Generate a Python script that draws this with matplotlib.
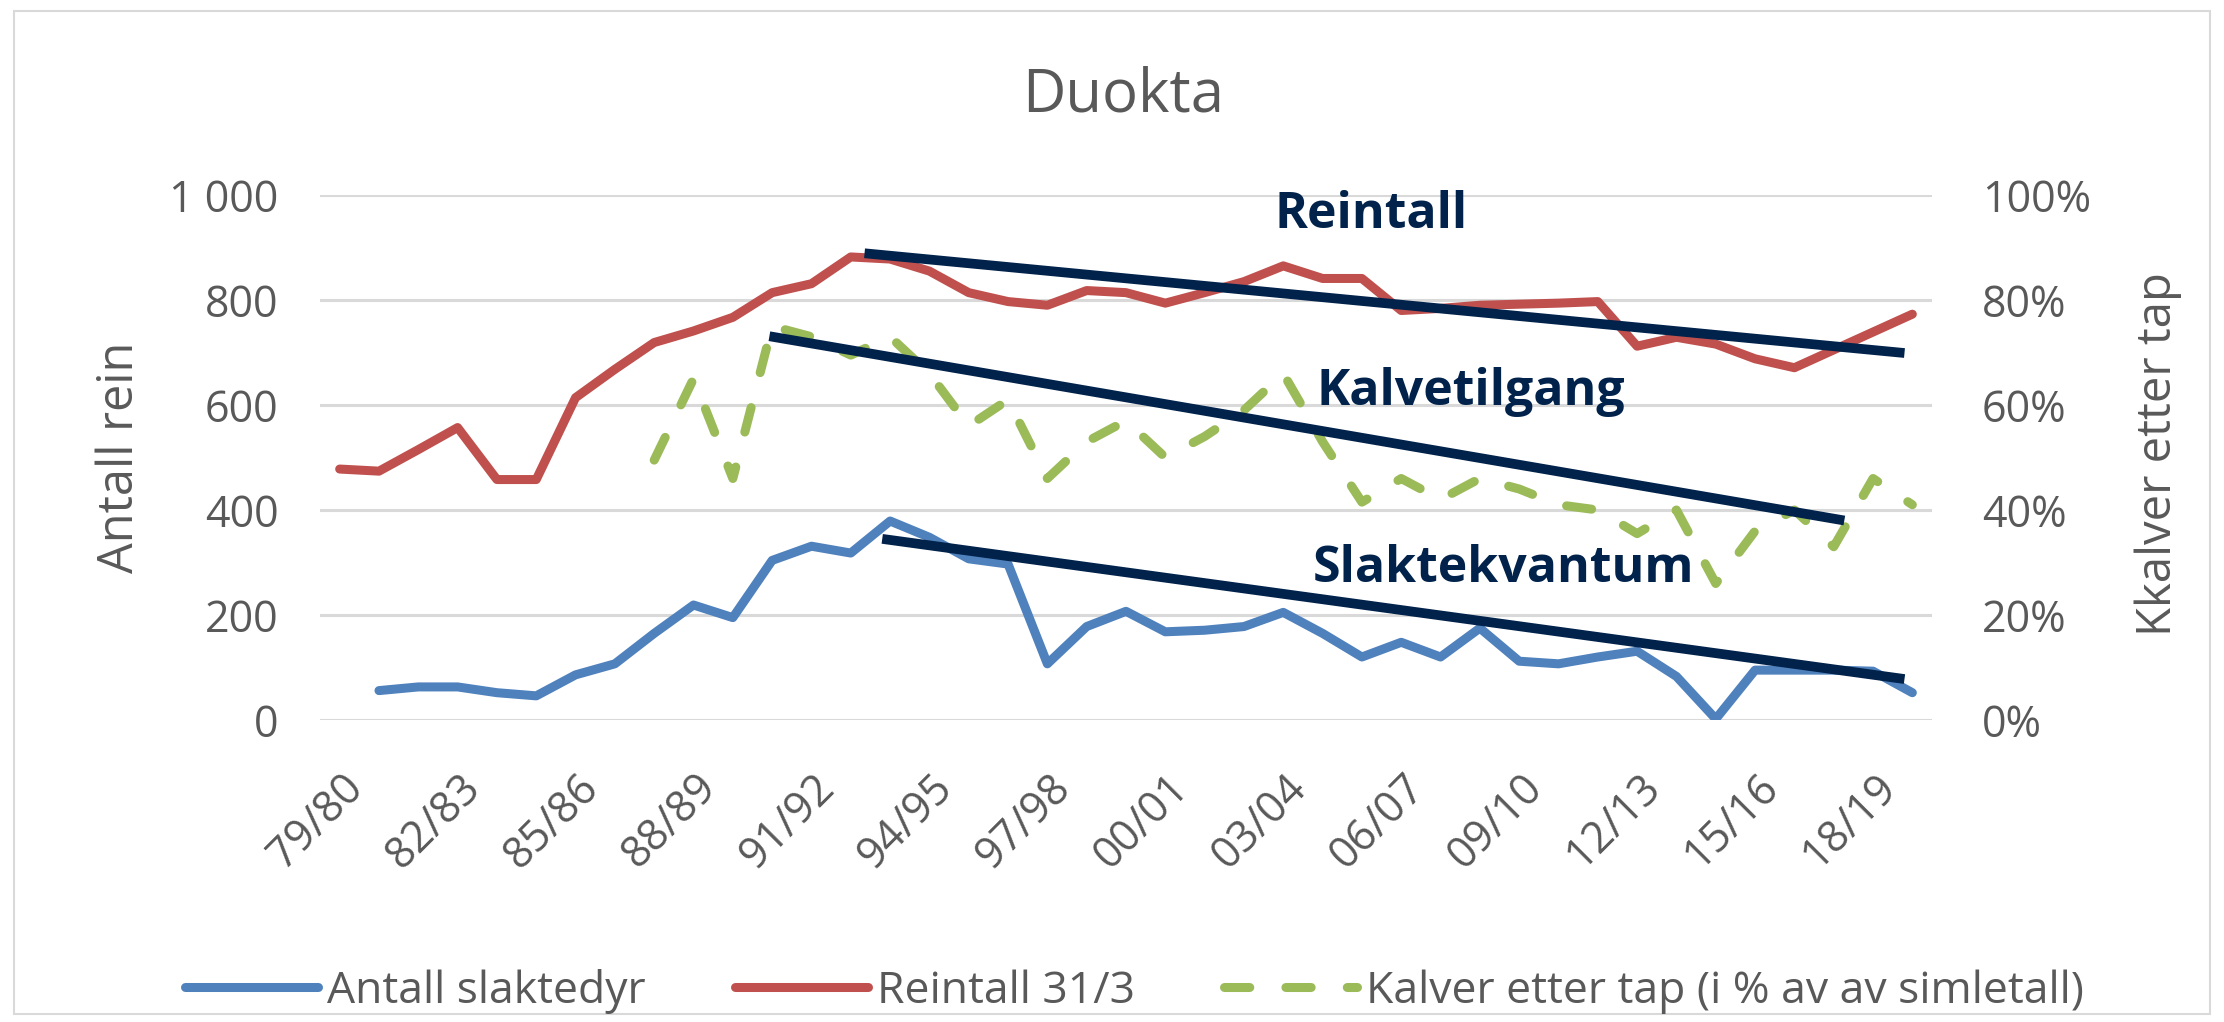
import numpy as np
import matplotlib
matplotlib.use("Agg")
import matplotlib.pyplot as plt
from matplotlib.patches import Rectangle
from matplotlib.ticker import FuncFormatter, PercentFormatter
from matplotlib.transforms import ScaledTranslation

plt.rcParams['font.family'] = ['Open Sans', 'DejaVu Sans']

seasons = ["79/80", "80/81", "81/82", "82/83", "83/84", "84/85", "85/86", "86/87",
           "87/88", "88/89", "89/90", "90/91", "91/92", "92/93", "93/94", "94/95",
           "95/96", "96/97", "97/98", "98/99", "99/00", "00/01", "01/02", "02/03",
           "03/04", "04/05", "05/06", "06/07", "07/08", "08/09", "09/10", "10/11",
           "11/12", "12/13", "13/14", "14/15", "15/16", "16/17", "17/18", "18/19",
           "19/20"]

nan = np.nan
slaktedyr = [nan, 56, 63, 63, 52, 46, 86, 107, 165, 219, 195, 304, 331, 318, 379, 348,
             307, 297, 107, 178, 207, 168, 171, 178, 205, 165, 120, 148, 120, 175, 112,
             107, 120, 131, 83, 2, 95, 95, 95, 93, 52]
reintall = [478, 474, 515, 557, 458, 458, 614, 668, 719, 741, 767, 814, 831, 882, 878,
            855, 814, 797, 790, 818, 814, 794, 814, 835, 865, 841, 841, 780, 784, 790,
            792, 794, 797, 712, 729, 716, 688, 671, 705, 739, 773]
kalver_pct = [nan, nan, nan, nan, nan, nan, nan, nan, 49.5, 65, 46, 75, 73, 69.5, 73,
              66, 56, 61, 46, 53, 57, 50, 54, 59, 66, 53, 41.5, 46, 42, 46, 44, 41, 40,
              35.5, 40, 26, 36, 40, 33, 46, 41]

# hand drawn trend lines (category index, antall rein)
trend_reintall_x = [13.35, 39.8]
trend_reintall_y = [889, 699]
trend_kalv_x = [10.93, 38.27]
trend_kalv_y = [731, 380]
trend_slakt_x = [13.8, 39.8]
trend_slakt_y = [345, 78]

grey = '#595959'
navy = '#00224b'

fig = plt.figure(figsize=(22.24, 10.22), dpi=100)
fig.patches.append(Rectangle((14 / 2224, 8 / 1022), 2196 / 2224, 1003 / 1022,
                             transform=fig.transFigure, fill=False,
                             edgecolor='#d9d9d9', linewidth=1.5))

ax = fig.add_axes([320 / 2224, 1 - 720 / 1022, 1612 / 2224, 525 / 1022])
ax2 = ax.twinx()

x = np.arange(len(seasons))
l1, = ax.plot(x, slaktedyr, color='#4f81bd', lw=6.5, solid_capstyle='round',
              solid_joinstyle='round', label='Antall slaktedyr', zorder=3)
l2, = ax.plot(x, reintall, color='#c0504d', lw=6.5, solid_capstyle='round',
              solid_joinstyle='round', label='Reintall 31/3', zorder=3)
l3, = ax2.plot(x, np.array(kalver_pct) / 100, color='#9bbb59', lw=6.5,
               dashes=(2.8, 4.0), dash_capstyle='round',
               label='Kalver etter tap (i % av av simletall)', zorder=3)

for tx, ty in [(trend_reintall_x, trend_reintall_y), (trend_kalv_x, trend_kalv_y),
               (trend_slakt_x, trend_slakt_y)]:
    ax2.plot(tx, np.array(ty) / 1000, color=navy, lw=7, solid_capstyle='butt', zorder=5)

ax.set_xlim(-0.5, 40.5)
ax.set_ylim(0, 1000)
ax2.set_ylim(0, 1)
ax.set_yticks(np.arange(0, 1001, 200))
ax2.set_yticks(np.arange(0, 1.01, 0.2))
ax.yaxis.set_major_formatter(FuncFormatter(lambda v, p: f'{int(v):,}'.replace(',', ' ')))
ax2.yaxis.set_major_formatter(PercentFormatter(1.0, decimals=0))
ax.set_xticks(x[::3])
ax.set_xticklabels(seasons[::3], rotation=45, ha='right', va='center',
                   rotation_mode='anchor')

ax.grid(axis='y', color='#d9d9d9', lw=2.2)
ax.set_axisbelow(True)
for a in (ax, ax2):
    for s in a.spines.values():
        s.set_visible(False)
    a.tick_params(length=0, colors=grey, labelsize=31)
ax.tick_params(axis='y', pad=30)
ax.tick_params(axis='x', pad=44)
ax2.tick_params(axis='y', pad=36)

shift = ScaledTranslation(0.17, 0, fig.dpi_scale_trans)
for lab in ax.get_xticklabels():
    lab.set_transform(lab.get_transform() + shift)

ax2.text(26.24, 0.937, 'Reintall', ha='center', va='baseline', color=navy,
         fontsize=36, fontweight='bold')
ax2.text(28.78, 0.600, 'Kalvetilgang', ha='center', va='baseline', color=navy,
         fontsize=36, fontweight='bold')
ax2.text(29.6, 0.263, 'Slaktekvantum', ha='center', va='baseline', color=navy,
         fontsize=36, fontweight='bold')

fig.text(0.505, 1 - 96 / 1022, 'Duokta', ha='center', va='center', color=grey, fontsize=43)
fig.text(120 / 2224, 1 - 457 / 1022, 'Antall rein', rotation=90, ha='center',
         va='center', color=grey, fontsize=35)
fig.text(2158 / 2224, 1 - 454 / 1022, 'Kkalver etter tap', rotation=90, ha='center',
         va='center', color=grey, fontsize=34)

fig.legend(handles=[l1, l2, l3], loc='center', bbox_to_anchor=(0.51, 0.03), ncol=3,
           frameon=False, fontsize=32, labelcolor=grey, handlelength=3.0,
           handletextpad=0.2, columnspacing=2.0)

fig.savefig('out.png', dpi=100, facecolor='white')
